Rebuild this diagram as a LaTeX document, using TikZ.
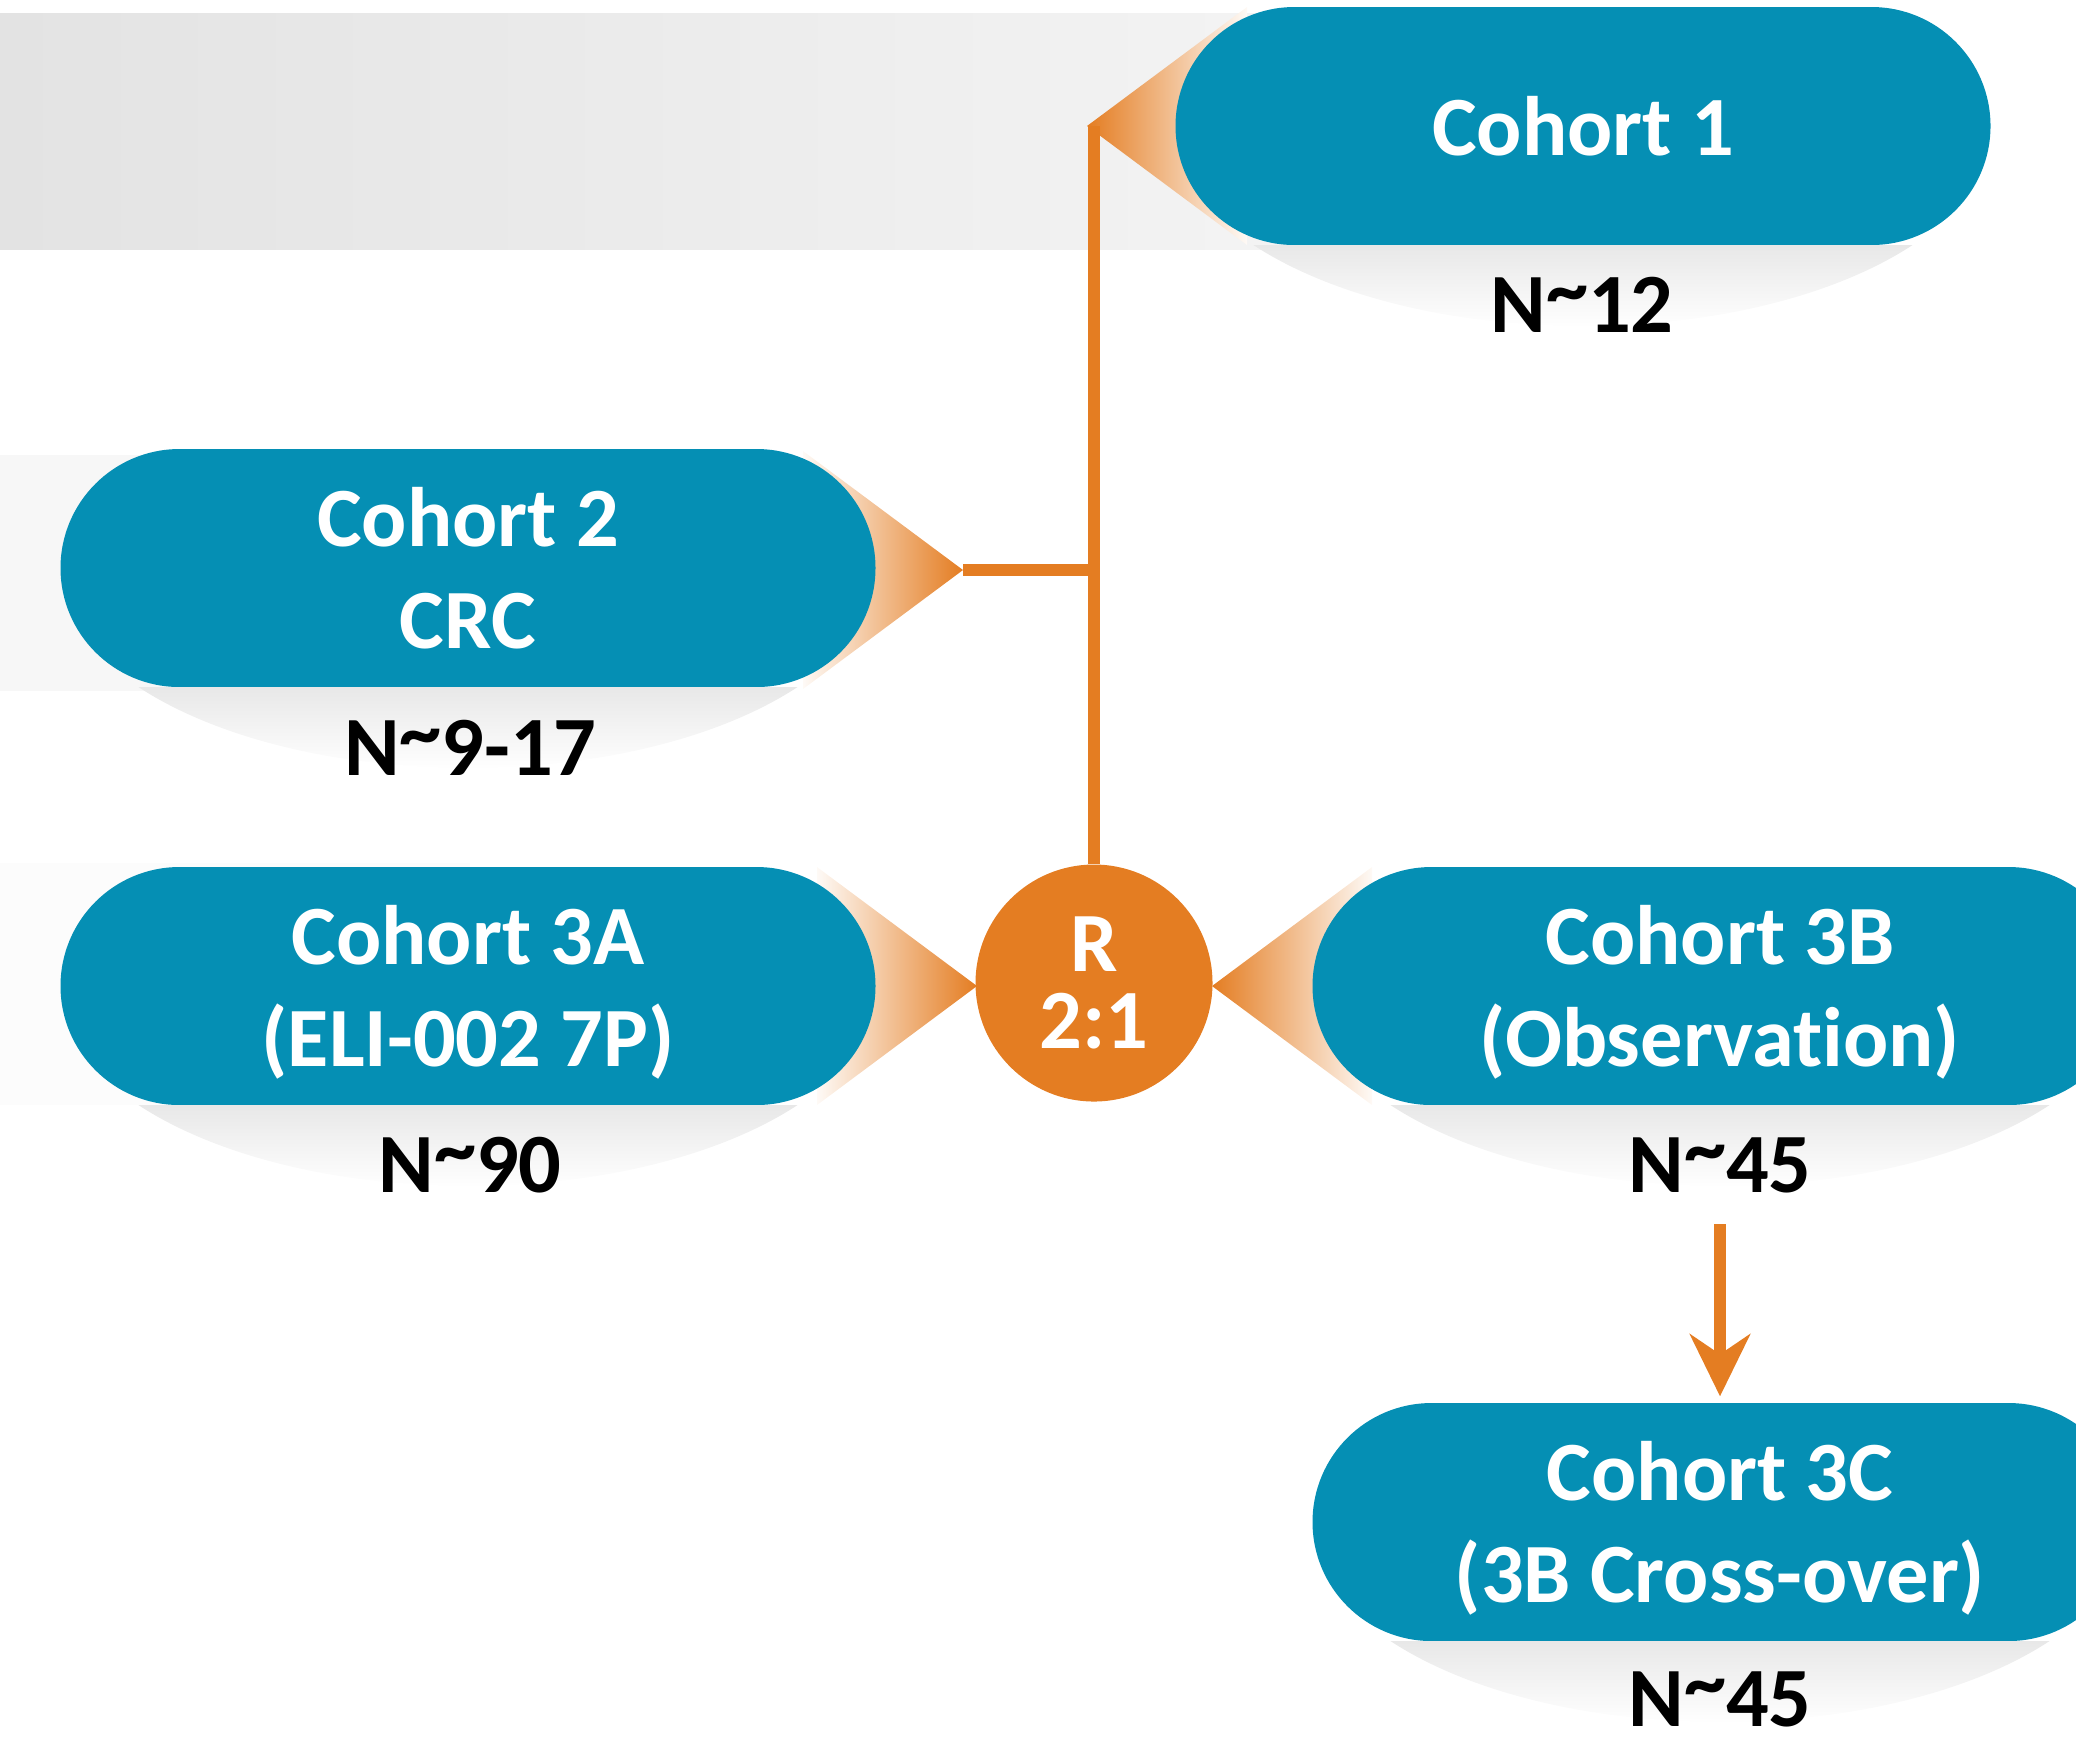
\documentclass[tikz,border=0pt]{standalone}
\usepackage{fontspec}
\setmainfont{Carlito}[Ligatures=NoCommon]
\usetikzlibrary{shapes.misc,arrows.meta}
\definecolor{cohortblue}{HTML}{058FB4}
\definecolor{randorange}{HTML}{E47D22}
\newcommand{\approxsign}{\raisebox{0.18em}{\textasciitilde}}

\begin{document}
\begin{tikzpicture}[
        bigfont/.style={font=\fontsize{24}{29}\selectfont\bfseries},
        cohort/.style={rounded rectangle, fill=cohortblue, text=white, bigfont,
            minimum width=8.15cm, minimum height=2.38cm, inner sep=0pt, align=center},
        count/.style={bigfont, text=black, inner sep=0pt},
        randnode/.style={circle, fill=randorange, text=white, font=\fontsize{24}{22}\selectfont\bfseries,
            minimum size=2.37cm, inner sep=0pt, align=center},
        link/.style={draw=randorange, line width=0.12cm},
        shadowtop/.style={top color=black!9, bottom color=white},
    ]
    \useasboundingbox (0,0) rectangle (20.76,-17.45);
    % background bands
    \shade[left color=black!11, right color=black!3] (0,-0.13) rectangle (15.8,-2.49);
    \fill[black!3] (0,-4.55) rectangle (4.7,-6.91);
    \fill[black!1] (0,-8.63) rectangle (4.7,-11.05);
    % orange funnels
    \coordinate (c1tip) at (10.87,-1.26);
    \coordinate (c2tip) at (9.63,-5.70);
    \coordinate (c3atip) at (9.77,-9.86);
    \coordinate (c3btip) at (12.12,-9.86);
    \shade[left color=randorange, right color=randorange!4] (c1tip) -- (12.47,-0.07) -- (12.47,-2.45) -- cycle;
    \shade[left color=randorange!4, right color=randorange] (8.03,-4.51) -- (c2tip) -- (8.03,-6.89) -- cycle;
    \shade[left color=randorange!4, right color=randorange] (8.17,-8.67) -- (c3atip) -- (8.17,-11.05) -- cycle;
    \shade[left color=randorange, right color=randorange!4] (c3btip) -- (13.72,-8.67) -- (13.72,-11.05) -- cycle;
    % cohorts
    \node[cohort] (c1) at (15.83,-1.26) {Cohort 1};
    \node[cohort] (c2) at (4.68,-5.68) {Cohort 2\\CRC};
    \node[cohort] (c3a) at (4.68,-9.86) {Cohort 3A\\\smash{(ELI-002 7P)}};
    \node[cohort] (c3b) at (17.20,-9.86) {Cohort 3B\\\smash{(Observation)}};
    \node[cohort] (c3c) at (17.20,-15.22) {Cohort 3C\\\smash{(3B Cross-over)}};
    \foreach \p in {c1,c2,c3a,c3b,c3c} {
        \begin{scope}
            \clip (\p.center) ellipse (4.1 and 2.0);
            \shade[shadowtop] ([xshift=-4.1cm]\p.south) rectangle ([xshift=4.1cm,yshift=-0.82cm]\p.south);
        \end{scope}
    }
    \node[randnode] (rr) at (10.94,-9.83) {R\\2:1};
    % sizes
    \node[count] (n1) at (15.82,-3.05) {N\approxsign 12};
    \node[count] (n2) at (4.70,-7.48) {N\approxsign 9-17};
    \node[count] (n3a) at (4.70,-11.65) {N\approxsign 90};
    \node[count] (n3b) at (17.20,-11.65) {N\approxsign 45};
    \node[count] (n3c) at (17.20,-16.99) {N\approxsign 45};
    % connectors
    \draw[link] (rr.north) -- (rr.north |- c1tip);
    \draw[link] (c2tip) -- (c2tip -| rr.north);
    \draw[link, -{Stealth[length=0.62cm, width=0.6cm, inset=0.2cm]}, shorten <=0.31cm, shorten >=0.06cm] (n3b.south) -- (c3c.north);
\end{tikzpicture}
\end{document}
